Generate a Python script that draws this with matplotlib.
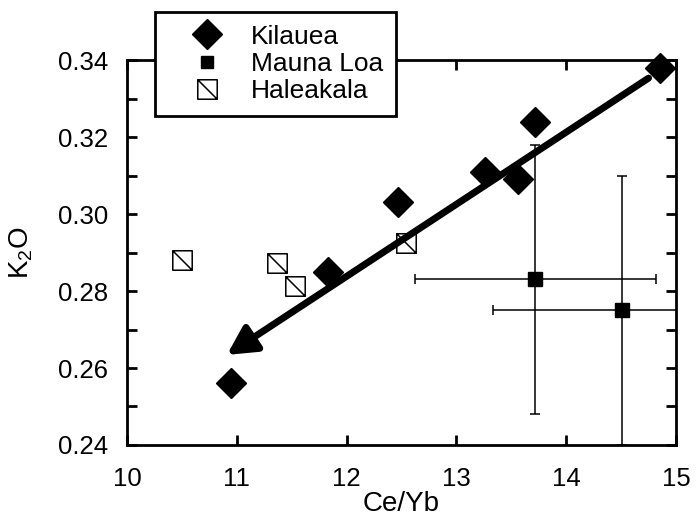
import matplotlib.pyplot as plt
import numpy as np
from matplotlib.path import Path
from matplotlib.ticker import MultipleLocator

plt.rcParams['font.family'] = ['Liberation Sans', 'DejaVu Sans']
plt.rcParams['mathtext.fontset'] = 'custom'
plt.rcParams['mathtext.rm'] = 'Liberation Sans'
plt.rcParams['mathtext.it'] = 'Liberation Sans'

# Kilauea
kil_ceyb = [10.95, 11.83, 12.47, 13.26, 13.56, 13.72, 14.85]
kil_k2o = [0.256, 0.285, 0.303, 0.311, 0.309, 0.324, 0.338]

# Mauna Loa, with errors
ml_ceyb = [13.72, 14.51]
ml_k2o = [0.283, 0.275]
ml_xerr = [1.10, 1.18]
ml_yerr = [0.035, 0.035]

# Haleakala
hal_ceyb = [10.50, 11.37, 11.53, 12.54]
hal_k2o = [0.288, 0.2873, 0.2813, 0.2925]

# trend arrow (tail, head)
arrow_tail = (14.75, 0.3353)
arrow_head = (10.91, 0.2634)

# open square with a diagonal stroke
sq_verts = [(-1, -1), (1, -1), (1, 1), (-1, 1), (-1, -1), (-1, 1), (1, -1)]
sq_codes = [Path.MOVETO, Path.LINETO, Path.LINETO, Path.LINETO, Path.CLOSEPOLY,
            Path.MOVETO, Path.LINETO]
hatched_square = Path(sq_verts, sq_codes)

fig = plt.figure(figsize=(6.98, 5.16), dpi=100)
ax = fig.add_axes([0.182, 0.1376, 0.7865, 0.7461])

ax.errorbar(ml_ceyb, ml_k2o, xerr=ml_xerr, yerr=ml_yerr, fmt='none',
            ecolor='black', elinewidth=1.1, capsize=3.5, capthick=1.1, zorder=2)
ax.plot(ml_ceyb, ml_k2o, 's', color='black', markersize=9.5, zorder=3)
ax.plot(hal_ceyb, hal_k2o, linestyle='none', marker=hatched_square,
        markersize=14, markerfacecolor='white', markeredgecolor='black',
        markeredgewidth=1.1, zorder=3)
ax.plot(kil_ceyb, kil_k2o, 'D', color='black', markersize=15.5, zorder=4,
        clip_on=False)

ax.annotate('', xy=arrow_head, xytext=arrow_tail,
            arrowprops=dict(arrowstyle='-|>,head_length=0.85,head_width=0.45',
                            mutation_scale=20, lw=5, color='black',
                            shrinkA=0, shrinkB=0),
            zorder=5)

# legend handles
h_kil, = ax.plot([], [], 'D', color='black', markersize=15.5)
h_ml, = ax.plot([], [], 's', color='black', markersize=9)
h_hal, = ax.plot([], [], linestyle='none', marker=hatched_square,
                 markersize=14, markerfacecolor='white',
                 markeredgecolor='black', markeredgewidth=1.1)
leg = ax.legend([h_kil, h_ml, h_hal], ['Kilauea', 'Mauna Loa', 'Haleakala'],
                loc='upper left', bbox_to_anchor=(0.222, 0.977),
                bbox_transform=fig.transFigure, borderaxespad=0,
                fontsize=19, frameon=True, fancybox=False, framealpha=1,
                edgecolor='black', handlelength=2.95, handletextpad=0.2,
                labelspacing=0.13, borderpad=0.48)
leg.get_frame().set_linewidth(2)
leg.set_zorder(10)

ax.set_xlim(10, 15)
ax.set_ylim(0.24, 0.34)
ax.xaxis.set_major_locator(MultipleLocator(1))
ax.yaxis.set_major_locator(MultipleLocator(0.02))
ax.yaxis.set_minor_locator(MultipleLocator(0.01))
ax.yaxis.set_major_formatter(plt.FormatStrFormatter('%.2f'))
ax.tick_params(which='both', direction='in', top=True, right=True,
               length=7.5, width=2, labelsize=18.5)
ax.tick_params(axis='x', pad=16)
ax.tick_params(axis='y', pad=13.5)
for s in ax.spines.values():
    s.set_linewidth(2)

ax.set_xlabel('Ce/Yb', fontsize=20, labelpad=0)
ax.set_ylabel(r'K$_2$O', fontsize=20)
ax.yaxis.set_label_coords(-0.168, 0.5)

plt.savefig('out.png', dpi=100)
